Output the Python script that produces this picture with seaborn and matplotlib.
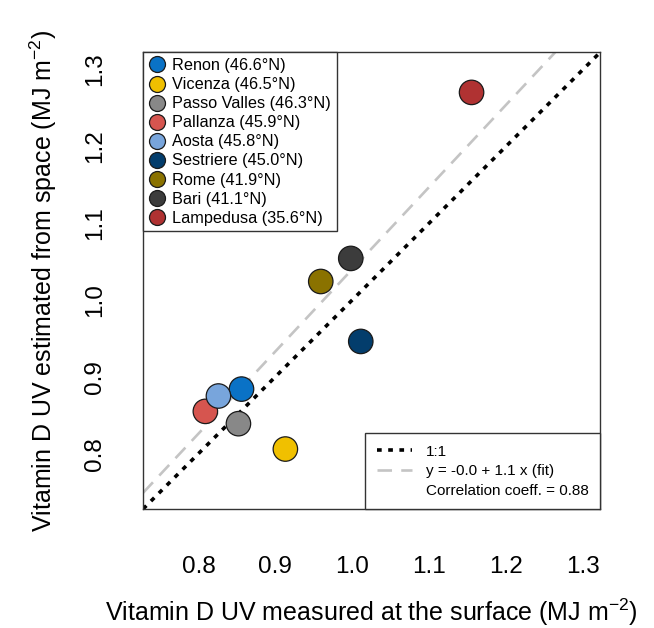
import matplotlib
matplotlib.use("Agg")
import matplotlib.pyplot as plt
from matplotlib.lines import Line2D
import seaborn as sns
import pandas as pd

# ---- data ----
stations = ["Renon", "Vicenza", "Passo Valles", "Pallanza", "Aosta",
            "Sestriere", "Rome", "Bari", "Lampedusa"]
latitudes = ["46.6", "46.5", "46.3", "45.9", "45.8", "45.0", "41.9", "41.1", "35.6"]
surface = [0.856, 0.913, 0.852, 0.809, 0.826, 1.011, 0.959, 0.998, 1.155]
space = [0.884, 0.806, 0.839, 0.855, 0.875, 0.946, 1.024, 1.054, 1.270]
colors = ["#0A72C6", "#F0C000", "#888888", "#D6554F", "#78A5DC",
          "#033D6C", "#8A7200", "#3C3C3C", "#B03232"]
fit_intercept = -0.03
fit_slope = 1.07
corr_coeff = 0.88
axis_ticks = [0.8, 0.9, 1.0, 1.1, 1.2, 1.3]
axis_lim = (0.728, 1.322)

labels = [f"{s} ({l}°N)" for s, l in zip(stations, latitudes)]
df = pd.DataFrame({"surface": surface, "space": space, "station": labels})

sns.set_style("white")
plt.rcParams["font.family"] = ["Liberation Sans", "DejaVu Sans"]
plt.rcParams["mathtext.fontset"] = "custom"
plt.rcParams["mathtext.rm"] = "Liberation Sans"
plt.rcParams["mathtext.it"] = "Liberation Sans:italic"
plt.rcParams["mathtext.default"] = "regular"
plt.rcParams["text.color"] = "black"
plt.rcParams["axes.labelcolor"] = "black"
plt.rcParams["xtick.color"] = "black"
plt.rcParams["ytick.color"] = "black"

fig = plt.figure(figsize=(6.54, 6.28), dpi=100)
ax = fig.add_axes([0.2187, 0.1895, 0.6988, 0.727])

# reference lines
ax.axline((0, 0), slope=1, color="black", lw=2.6,
          linestyle=(0, (1.3, 1.8)), zorder=1)
ax.axline((0, fit_intercept), slope=fit_slope, color="#C4C4C4", lw=1.9,
          linestyle=(0, (5.5, 3.5)), zorder=1)

sns.scatterplot(data=df, x="surface", y="space", hue="station",
                palette=colors, s=310, edgecolor="#1a1a1a", linewidth=0.9,
                ax=ax, zorder=3, legend=False)

ax.set_xlim(*axis_lim)
ax.set_ylim(*axis_lim)
ax.set_xticks(axis_ticks)
ax.set_yticks(axis_ticks)
ax.set_xticklabels([f"{t:.1f}" for t in axis_ticks])
ax.set_yticklabels([f"{t:.1f}" for t in axis_ticks], rotation=90, va="center")
ax.tick_params(axis="both", direction="out", length=11.5, width=0.9,
               color="#333333", labelsize=17.5)
ax.tick_params(axis="x", pad=22)
ax.tick_params(axis="y", pad=15)
for sp in ax.spines.values():
    sp.set_color("#333333")
    sp.set_linewidth(1.0)

ax.set_xlabel("Vitamin D UV measured at the surface (MJ m$^{-2}$)",
              fontsize=18, labelpad=14)
ax.set_ylabel("Vitamin D UV estimated from space (MJ m$^{-2}$)",
              fontsize=18, labelpad=18)

# station legend
handles1 = [Line2D([], [], marker="o", linestyle="none", markersize=11.5,
                   markerfacecolor=c, markeredgecolor="#1a1a1a",
                   markeredgewidth=0.9) for c in colors]
leg1 = ax.legend(handles1, labels, loc="upper left", borderaxespad=0,
                 fontsize=11.7, frameon=True, fancybox=False,
                 edgecolor="#333333", framealpha=1, borderpad=0.35,
                 handlelength=1.0, handletextpad=0.45, labelspacing=0.25)
leg1.get_frame().set_linewidth(1.0)
ax.add_artist(leg1)

# lines legend
handles2 = [Line2D([], [], color="black", lw=2.6, linestyle=(0, (1.3, 1.8))),
            Line2D([], [], color="#C4C4C4", lw=1.9, linestyle=(0, (5.5, 3.5))),
            Line2D([], [], linestyle="none")]
labels2 = ["1:1",
           f"y = -{abs(fit_intercept):.1f} + {fit_slope:.1f} x (fit)",
           f"Correlation coeff. = {corr_coeff:.2f}"]
leg2 = ax.legend(handles2, labels2, loc="lower right", borderaxespad=0,
                 fontsize=11, frameon=True, fancybox=False,
                 edgecolor="#333333", framealpha=1, borderpad=0.75,
                 handlelength=2.3, handletextpad=0.9, labelspacing=0.35)
leg2.get_frame().set_linewidth(1.0)

fig.savefig("out.png", dpi=100)
